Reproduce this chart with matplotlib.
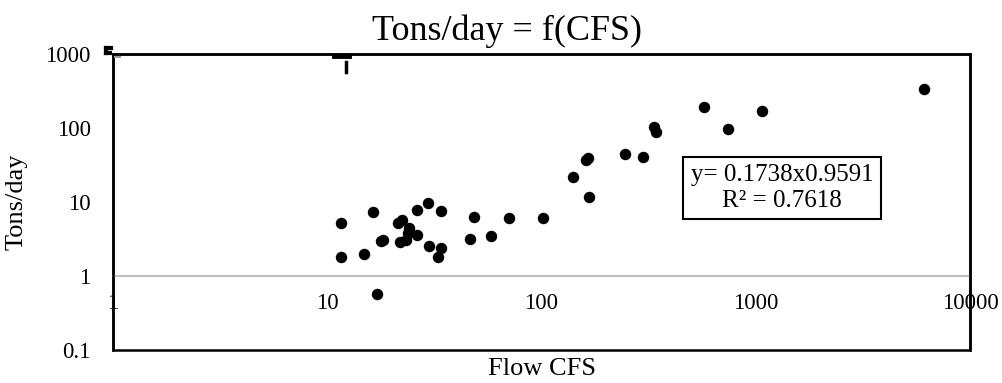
import matplotlib

matplotlib.use("Agg")
import matplotlib.pyplot as plt
from matplotlib.lines import Line2D
from matplotlib.patches import Rectangle

# flow (CFS) vs sediment load (tons/day)
flow_cfs = [11.6, 11.6, 16.4, 14.9, 17.1, 17.8, 18.3, 21.4, 22.3, 21.8,
            23.4, 24.2, 23.7, 26.1, 26.1, 29.6, 34.1, 29.7, 34.1, 32.8,
            46.2, 48.6, 58.2, 70.6, 102, 139.6, 162, 164.6, 166, 246,
            297, 336, 344, 576, 740, 1067, 6080]
tons_day = [5.25, 1.81, 7.3, 1.98, 0.57, 2.97, 3.07, 5.25, 5.7, 2.91,
            3.07, 4.4, 3.85, 3.55, 7.8, 9.6, 7.6, 2.54, 2.41, 1.82,
            3.19, 6.33, 3.47, 6.08, 6.08, 21.8, 37, 39.7, 11.6, 45,
            40.2, 103, 88, 190, 98, 171, 340]

x_ticks = [1, 10, 100, 1000, 10000]
y_ticks = [0.1, 1, 10, 100, 1000]
fit_text = "y= 0.1738x0.9591\nR\u00b2 = 0.7618"

plt.rcParams["font.family"] = ["Liberation Serif", "DejaVu Serif"]

W, H = 1002, 383
fig = plt.figure(figsize=(W / 100, H / 100), dpi=100)
ax = fig.add_axes([113 / W, 1 - 350 / H, (970 - 113) / W, (350 - 54) / H])

ax.scatter(flow_cfs, tons_day, s=68, color="black", zorder=3, linewidths=0)

ax.set_xscale("log")
ax.set_yscale("log")
ax.set_xlim(1, 10000)
ax.set_ylim(0.1, 1000)
ax.set_xticks(x_ticks)
ax.set_xticklabels([str(v) for v in x_ticks])
ax.set_yticks(y_ticks)
ax.set_yticklabels(["0.1", "1", "10", "100", "1000"])
ax.minorticks_off()
ax.tick_params(axis="x", length=0, pad=12, labelsize=16.5)
ax.tick_params(axis="y", length=0, pad=16, labelsize=16.5)

# Excel style: horizontal axis crosses at y = 1, drawn as a grey line
ax.spines["bottom"].set_position(("data", 1))
ax.spines["bottom"].set_color("#bfbfbf")
ax.spines["bottom"].set_linewidth(1.5)
for s in ("top", "left", "right"):
    ax.spines[s].set_linewidth(1.8)
    ax.spines[s].set_color("black")
ax.add_patch(Rectangle((0, 0), 1, 1, transform=ax.transAxes, fill=False,
                       edgecolor="black", lw=1.8, clip_on=False, zorder=4))

fig.text(507 / W, 1 - 31 / H, "Tons/day = f(CFS)", fontsize=26,
         ha="center", va="center")
ax.set_xlabel("Flow CFS", fontsize=19)
ax.xaxis.set_label_coords(0.5, -0.028)
ax.set_ylabel("Tons/day", fontsize=19)
ax.yaxis.set_label_coords(-0.1, 0.5)

ax.text(0.7806, 0.547, fit_text, transform=ax.transAxes, ha="center",
        va="center", fontsize=18, linespacing=1.2,
        bbox=dict(boxstyle="square,pad=0.3", fc="white", ec="black", lw=1.5))

# small stray marks present in the original export
def px(x, y):
    return x / W, 1 - y / H

for (x0, y0), (x1, y1), lw, col in [
        ((106, 48), (106, 53), 3, "black"), ((106, 48), (111, 48), 3, "black"),
        ((106, 53), (110, 53), 3, "black"), ((115, 57), (120, 57), 1.5, "#9a9a9a"),
        ((334, 56), (349, 56), 3.5, "black"), ((346, 62), (346, 72), 2.5, "black")]:
    a, b = px(x0, y0)
    c, d = px(x1, y1)
    fig.add_artist(Line2D([a, c], [b, d], color=col, lw=lw))

fig.savefig("out.png", dpi=100)
